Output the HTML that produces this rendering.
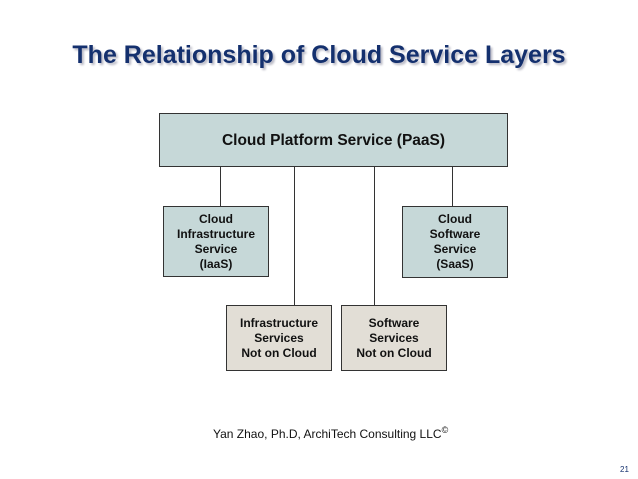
<!DOCTYPE html>
<html><head><style>
body{margin:0;width:638px;height:479px;background:#fff;position:relative;overflow:hidden;font-family:"Liberation Sans",Arial,sans-serif}
.t{position:absolute;left:0;width:638px;top:41px;text-align:center;font-weight:bold;font-size:25px;color:#14306e;text-shadow:2px 2px 2px #b8b8c4}
.b{position:absolute;box-sizing:border-box;border:1px solid #333;display:flex;align-items:center;justify-content:center;text-align:center;font-weight:bold;font-size:12px;line-height:15px;color:#111}
.g{background:#c6d8d8}.k{background:#e2ded6}
.l{position:absolute;width:1px;background:#333}
</style></head><body>
<div class="t">The Relationship of Cloud Service Layers</div>
<div class="b g" style="left:159px;top:113px;width:349px;height:54px;font-size:15.5px">Cloud Platform Service (PaaS)</div>
<div class="l" style="left:220px;top:167px;height:39px"></div>
<div class="l" style="left:294px;top:167px;height:138px"></div>
<div class="l" style="left:374px;top:167px;height:138px"></div>
<div class="l" style="left:452px;top:167px;height:39px"></div>
<div class="b g" style="left:163px;top:206px;width:106px;height:71px">Cloud<br>Infrastructure<br>Service<br>(IaaS)</div>
<div class="b g" style="left:402px;top:206px;width:106px;height:72px">Cloud<br>Software<br>Service<br>(SaaS)</div>
<div class="b k" style="left:226px;top:305px;width:106px;height:66px">Infrastructure<br>Services<br>Not on Cloud</div>
<div class="b k" style="left:341px;top:305px;width:106px;height:66px">Software<br>Services<br>Not on Cloud</div>
<div style="position:absolute;left:213px;top:425px;font-size:12px;color:#111;white-space:nowrap">Yan Zhao, Ph.D, ArchiTech Consulting LLC<sup style="font-size:9px">©</sup></div>
<div style="position:absolute;left:620px;top:465px;font-size:8px;color:#14306e">21</div>
</body></html>
